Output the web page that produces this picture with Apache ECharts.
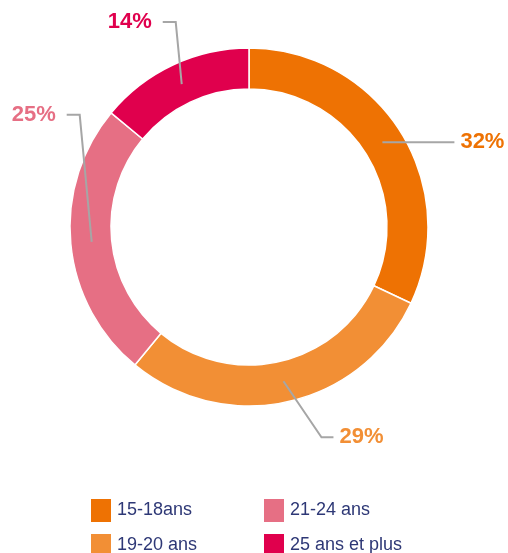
<!DOCTYPE html>
<html>
<head>
<meta charset="utf-8">
<script src="https://cdn.jsdelivr.net/npm/echarts@6/dist/echarts.min.js"></script>
<style>
  html, body { margin: 0; padding: 0; background: #fff; }
  #charts { width: 508px; height: 553px; }
</style>
</head>
<body>
<div id="charts"></div>
<script>
// tranches d'âge
let categories = ["15-18ans", "19-20 ans", "21-24 ans", "25 ans et plus"];
let values = [32, 29, 25, 14];
let colors = ["#ee7203", "#f28f35", "#e66f84", "#e0004d"];

// label guide: [dx, dy] of the bend from the anchor, then horizontal tail
let labelBends = [
  [62, 0, 10],
  [38, 56, 12],
  [-12, -127, -13],
  [-6, -62, -13],
];

let center = [249, 227];
let chartDom = document.getElementById("charts");
let myChart = echarts.init(chartDom);
let option;

let legendBase = {
  orient: "vertical",
  top: 497,
  height: 80,
  padding: 0,
  icon: "rect",
  itemWidth: 22,
  itemHeight: 25,
  itemGap: 8,
  textStyle: { color: "#2e3876", fontSize: 18, fontFamily: "Liberation Sans" },
};

option = {
  legend: [
    Object.assign({}, legendBase, { data: [categories[0], categories[1]], left: 89 }),
    Object.assign({}, legendBase, { data: [categories[2], categories[3]], left: 262 }),
  ],
  series: [
    {
      type: "pie",
      center: center,
      radius: [138, 179],
      startAngle: 90,
      clockwise: true,
      silent: true,
      itemStyle: {
        borderColor: "#fff",
        borderWidth: 1.5,
      },
      label: { show: false },
      labelLine: { show: false },
      data: categories.map(function (name, i) {
        return { name: name, value: values[i], itemStyle: { color: colors[i] } };
      }),
    },
    {
      // labels only, anchored in the middle of the ring
      type: "pie",
      z: 5,
      center: center,
      radius: [0, 158],
      startAngle: 90,
      clockwise: true,
      silent: true,
      itemStyle: { color: "transparent", borderWidth: 0 },
      label: {
        show: true,
        position: "outside",
        formatter: "{c}%",
        fontSize: 22,
        fontWeight: "bold",
        fontFamily: "Liberation Sans",
        overflow: "none",
      },
      labelLine: {
        show: true,
        length: 10,
        length2: 10,
        lineStyle: { color: "#a6a6a6", width: 2 },
      },
      labelLayout: function (params) {
        let a = params.labelLinePoints[0];
        let b = labelBends[params.dataIndex];
        let elbow = [a[0] + b[0], a[1] + b[1]];
        let end = [elbow[0] + b[2], elbow[1]];
        return {
          x: end[0] + (b[2] > 0 ? 6 : -11),
          y: end[1],
          align: b[2] > 0 ? "left" : "right",
          verticalAlign: "middle",
          labelLinePoints: [a, elbow, end],
        };
      },
      data: categories.map(function (name, i) {
        return { name: name, value: values[i], label: { color: colors[i] } };
      }),
    },
  ],
};

option && myChart.setOption(option);
</script>
</body>
</html>
